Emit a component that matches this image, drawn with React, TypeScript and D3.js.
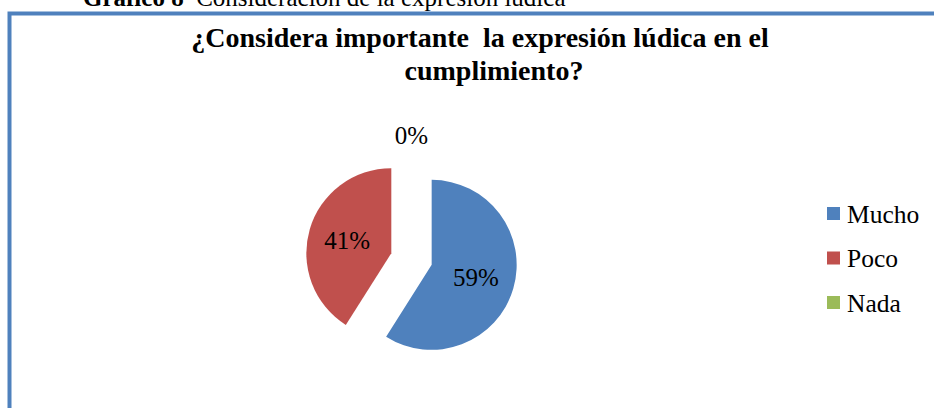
import React from "react"
import * as d3 from "d3"

// data
const categories = ["Mucho", "Poco", "Nada"]
const values = [59, 41, 0]
const colors = ["#4F81BD", "#C0504D", "#9BBB59"]
const titleLines = ["¿Considera importante  la expresión lúdica en el", "cumplimiento?"]
const caption = ["Gráfico 8", "  Consideración de la expresión lúdica"]

const W = 934
const H = 408
const FONT = "'Liberation Serif', 'Times New Roman', serif"

const App = () => {
  const cx = 411.5
  const cy = 259
  const radius = 85
  const explode = 21

  const total = d3.sum(values)
  const pie = d3.pie<number>().sort(null).value(d => d)
  const arcs = pie(values)
  const arc = d3.arc<d3.PieArcDatum<number>>().innerRadius(0).outerRadius(radius)
  // labels inside slices sit at about half the radius
  const labelArc = d3.arc<d3.PieArcDatum<number>>().innerRadius(46).outerRadius(46)
  // empty slices get their label just outside the pie
  const outerLabelArc = d3.arc<d3.PieArcDatum<number>>().innerRadius(radius + 18).outerRadius(radius + 18)

  const fmt = d3.format(".0%")

  const legendY = d3.scalePoint<string>().domain(categories).range([214, 303])

  return (
    <svg width={W} height={H} style={{ position: "absolute", left: 0, top: 0, background: "#fff" }}
      fontFamily={FONT}>
      {/* caption cut off at the top, as in the source */}
      <text x={83} y={6} fontSize={25} xmlSpace="preserve">
        <tspan fontWeight="bold">{caption[0]}</tspan>
        <tspan>{caption[1]}</tspan>
      </text>

      {/* chart frame */}
      <rect x={9.5} y={13.5} width={W + 20} height={H + 20} fill="none" stroke="#4F81BD" strokeWidth={4} />

      {/* title */}
      <text x={480} y={47} fontSize={28} fontWeight="bold" textAnchor="middle" xmlSpace="preserve">{titleLines[0]}</text>
      <text x={494} y={80} fontSize={28} fontWeight="bold" textAnchor="middle">{titleLines[1]}</text>

      {/* exploded pie */}
      {arcs.map((a, i) => {
        const mid = (a.startAngle + a.endAngle) / 2
        const dx = Math.sin(mid) * explode
        const dy = -Math.cos(mid) * explode
        const [lx, ly] = a.value > 0 ? labelArc.centroid(a) : outerLabelArc.centroid(a)
        return (
          <g key={categories[i]} transform={`translate(${cx + dx},${cy + dy})`}>
            {a.value > 0 && <path d={arc(a) || ""} fill={colors[i]} />}
            <text x={lx} y={ly} dy="0.35em" textAnchor="middle" fontSize={25} fill="#000">
              {fmt(a.value / total)}
            </text>
          </g>
        )
      })}

      {/* legend */}
      {categories.map((c, i) => (
        <g key={c} transform={`translate(827,${legendY(c)})`}>
          <rect x={0} y={-7} width={13} height={13} fill={colors[i]} />
          <text x={20} y={0} dy="0.35em" fontSize={25.5}>{c}</text>
        </g>
      ))}
    </svg>
  )
}

export default App
